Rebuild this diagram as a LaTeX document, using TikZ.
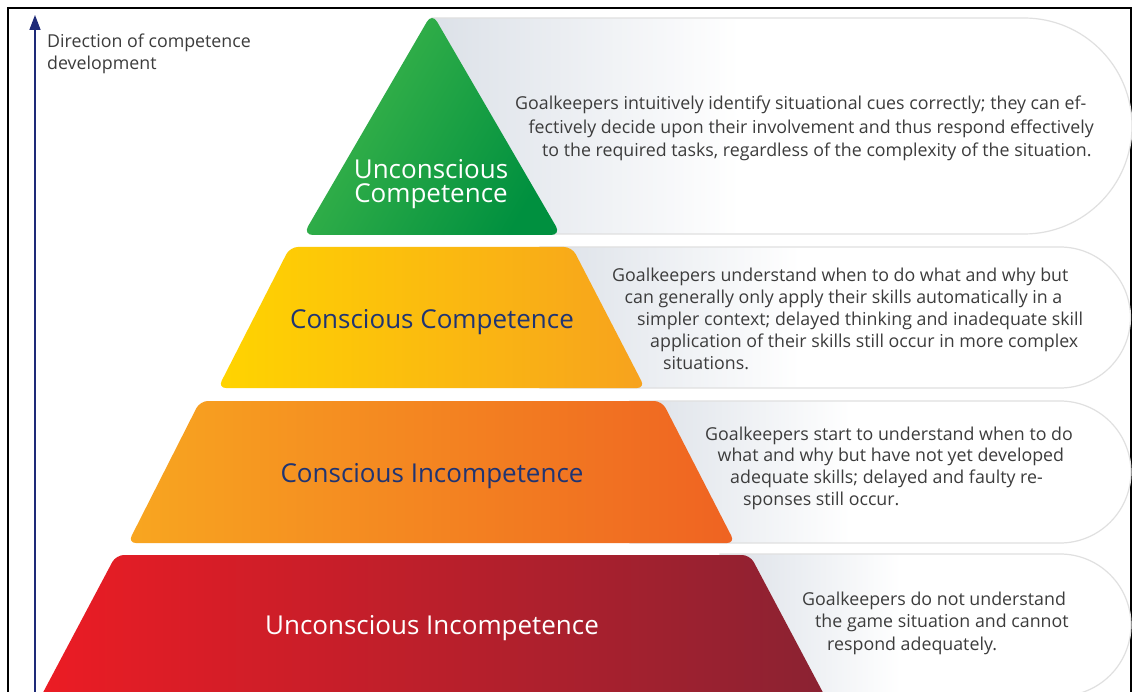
\documentclass[tikz,border=0pt]{standalone}
\usepackage{fontspec}
\setmainfont{Open Sans}
\usetikzlibrary{arrows.meta}
\definecolor{navyarrow}{HTML}{1E2A78}
\definecolor{navytext}{HTML}{1F3473}
\definecolor{txtgray}{HTML}{3C3C3C}
\definecolor{capgray}{HTML}{DCE1E8}
\definecolor{capedge}{HTML}{E0E0E0}
\definecolor{greenA}{HTML}{40B74B}
\definecolor{greenB}{HTML}{00903F}
\definecolor{yelA}{HTML}{FFD400}
\definecolor{yelB}{HTML}{F7A21E}
\definecolor{oraA}{HTML}{F8A620}
\definecolor{oraB}{HTML}{EF6322}
\definecolor{redA}{HTML}{EC1C24}
\definecolor{redB}{HTML}{8A2232}
\pgfdeclarehorizontalshading{capshade}{100bp}{color(0bp)=(capgray); color(25bp)=(capgray); color(47bp)=(white); color(100bp)=(white)}
\begin{document}
\begin{tikzpicture}[x=1pt,y=-1pt,
  capsulebox/.style={shade, shading=capshade, draw=capedge, line width=1.2pt},
  levelbox/.style={rounded corners=8pt},
  lbl/.style={anchor=base, inner sep=0pt, font=\fontsize{26}{22}\selectfont},
  desc/.style={anchor=base west, inner sep=0pt, text=txtgray, font=\fontsize{17.8}{22}\selectfont}]
\useasboundingbox (0,0) rectangle (1132,692);
\clip (0,0) rectangle (1132,692);
\fill[white] (0,0) rectangle (1132,692);
% frame
\draw[line width=2pt] (8,8) rectangle (1131,720);
% arrow
\coordinate (arrowfoot) at (35,700);
\coordinate (arrowtip) at (35,15);
\draw[navyarrow, line width=1.6pt, -{Triangle[length=15pt,width=11pt]}] (arrowfoot) -- (arrowtip);
\node[desc] (dir1) at (47,48) {Direction of competence};
\node[desc] (dir2) at (47,70) {development};
% capsules
\path[capsulebox] (432,18) -- (1024,18) arc[start angle=-90, end angle=90, radius=108] -- (432,234) -- cycle;
\path[capsulebox] (540,247) -- (1060,247) arc[start angle=-90, end angle=90, radius=70.5] -- (540,388) -- cycle;
\path[capsulebox] (630,401) -- (1060,401) arc[start angle=-90, end angle=90, radius=71] -- (630,543) -- cycle;
\path[capsulebox] (720,554) -- (1060,554) arc[start angle=-90, end angle=90, radius=71] -- (720,696) -- cycle;
% pyramid levels
\path[rounded corners=10pt, left color=greenA, right color=greenB, shading angle=60] (432,13) -- (561,235) -- (303,235) -- cycle;
\path[levelbox, left color=yelA, right color=yelB] (290,247) -- (572,247) -- (645,388) -- (218,388) -- cycle;
\path[levelbox, left color=oraA, right color=oraB] (200,401) -- (662,401) -- (735,543) -- (128,543) -- cycle;
\path[levelbox, left color=redA, right color=redB] (116,555) -- (750,555) -- (828,702) -- (38,702) -- cycle;
% labels
\node[lbl, text=white] (uc1) at (431,178.5) {Unconscious};
\node[lbl, text=white] (uc2) at (431,203) {Competence};
\node[lbl, text=navytext] (cc) at (432,329) {Conscious Competence};
\node[lbl, text=navytext] (ci) at (432,482) {Conscious Incompetence};
\node[lbl, text=white] (ui) at (432,634) {Unconscious Incompetence};
% descriptions
\node[desc] (a1) at (515,110) {Goalkeepers intuitively identify situational cues correctly; they can ef-};
\node[desc] (a2) at (528.5,133.5) {fectively decide upon their involvement and thus respond effectively};
\node[desc] (a3) at (542,157) {to the required tasks, regardless of the complexity of the situation.};
\node[desc] (b1) at (612,282) {Goalkeepers understand when to do what and why but};
\node[desc] (b2) at (624.5,304) {can generally only apply their skills automatically in a};
\node[desc] (b3) at (637,326) {simpler context; delayed thinking and inadequate skill};
\node[desc] (b4) at (650,348) {application of their skills still occur in more complex};
\node[desc] (b5) at (663,370) {situations.};
\node[desc] (c1) at (705,440) {Goalkeepers start to understand when to do};
\node[desc] (c2) at (717.5,461.7) {what and why but have not yet developed};
\node[desc] (c3) at (730,483.3) {adequate skills; delayed and faulty re-};
\node[desc] (c4) at (743,505) {sponses still occur.};
\node[desc] (d1) at (802,605) {Goalkeepers do not understand};
\node[desc] (d2) at (815,627.5) {the game situation and cannot};
\node[desc] (d3) at (827,650) {respond adequately.};
\end{tikzpicture}
\end{document}
